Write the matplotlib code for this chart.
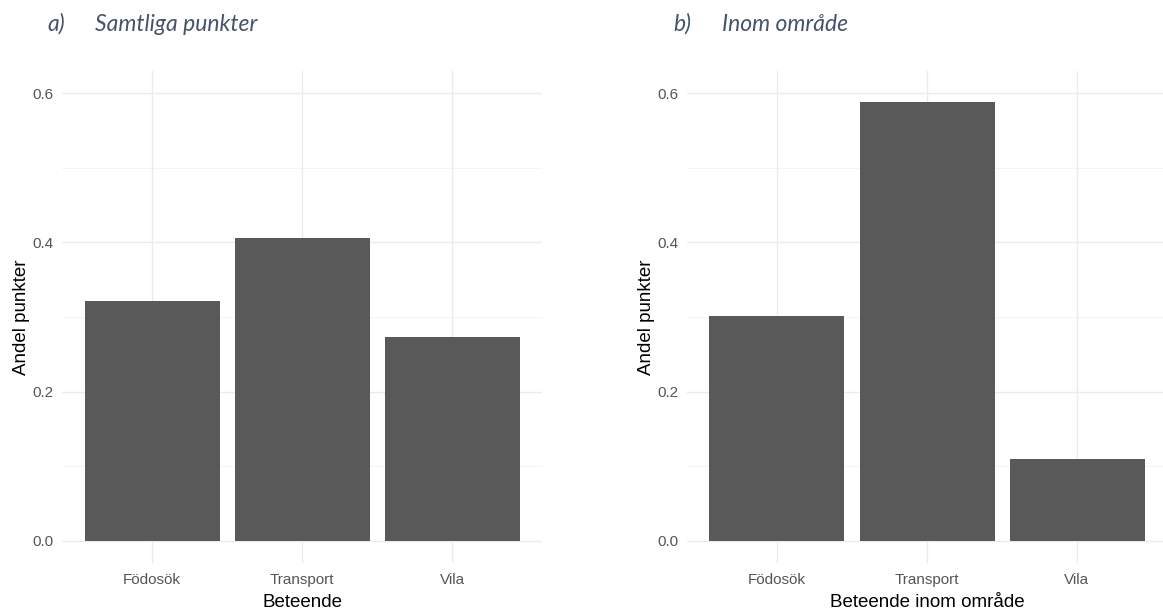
import matplotlib; matplotlib.use("Agg")
import matplotlib.pyplot as plt
import numpy as np

beteende = ["Födosök", "Transport", "Vila"]
andel_samtliga = [0.321, 0.406, 0.273]
andel_inom = [0.302, 0.588, 0.110]
y_ticks = [0.0, 0.2, 0.4, 0.6]
y_minor = [0.1, 0.3, 0.5]

plt.rcParams.update({"font.family": "Liberation Sans"})
fig = plt.figure(figsize=(11.63, 6.12), dpi=100)

W = 480 / 1163; H = 492 / 612; B = 49 / 612
panels = [
    (62 / 1163, andel_samtliga, "Beteende", "a)", "Samtliga punkter", 47 / 1163, 95 / 1163),
    (687 / 1163, andel_inom, "Beteende inom område", "b)", "Inom område", 673 / 1163, 722 / 1163),
]
for left, vals, xl, lab, title, lx, tx in panels:
    ax = fig.add_axes([left, B, W, H])
    x = np.arange(1, len(beteende) + 1)
    for v in y_ticks:
        ax.axhline(v, color="#EBEBEB", lw=1.0, zorder=0)
    for v in y_minor:
        ax.axhline(v, color="#F2F2F2", lw=0.6, zorder=0)
    for xi in x:
        ax.axvline(xi, color="#EBEBEB", lw=1.0, zorder=0)
    ax.bar(x, vals, width=0.9, color="#595959", zorder=2)
    ax.set_xlim(0.4, 3.6); ax.set_ylim(-0.03, 0.63)
    ax.set_xticks(x); ax.set_xticklabels(beteende)
    ax.set_yticks(y_ticks); ax.set_yticklabels([f"{v:.1f}" for v in y_ticks])
    ax.tick_params(length=0, labelsize=11, labelcolor="#555555")
    ax.tick_params(axis="x", pad=7.5)
    ax.tick_params(axis="y", pad=6)
    for s in ax.spines.values(): s.set_visible(False)
    ax.set_xlabel(xl, fontsize=13.5, labelpad=4.5)
    ax.set_ylabel("Andel punkter", fontsize=13.5, labelpad=1.5)
    ax.patch.set_alpha(0)
    fig.text(lx, 1 - 31 / 612, lab, fontsize=16.5, style="italic", color="#44546A",
             family="Lato", va="baseline")
    fig.text(tx, 1 - 31 / 612, title, fontsize=16.5, style="italic", color="#44546A",
             family="Lato", va="baseline")

fig.savefig("out.png", dpi=100)
